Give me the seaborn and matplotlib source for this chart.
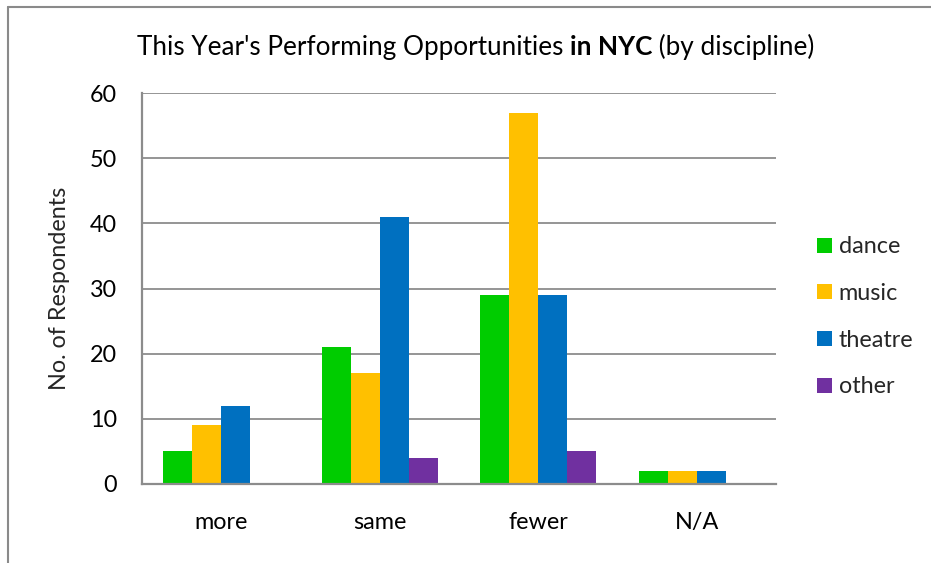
import matplotlib
matplotlib.use("Agg")
import matplotlib.pyplot as plt
import seaborn as sns
import pandas as pd
from matplotlib.lines import Line2D

categories = ["more", "same", "fewer", "N/A"]
disciplines = ["dance", "music", "theatre", "other"]
dance = [5, 21, 29, 2]
music = [9, 17, 57, 2]
theatre = [12, 41, 29, 2]
other = [0, 4, 5, 0]
yticks = [0, 10, 20, 30, 40, 50, 60]
colors = ["#00CC00", "#FFC000", "#0070C0", "#7030A0"]

rows = []
for d, vals in zip(disciplines, [dance, music, theatre, other]):
    for c, v in zip(categories, vals):
        rows.append({"category": c, "discipline": d, "value": v})
df = pd.DataFrame(rows)

sns.set_theme(style="white")
plt.rcParams["font.family"] = ["Lato", "DejaVu Sans"]

W, H = 931, 563
FS = 16.8
fig = plt.figure(figsize=(W / 100, H / 100), dpi=100)
ax = fig.add_axes([142 / W, 1 - 484 / H, (776 - 142) / W, (484 - 93) / H])

sns.barplot(data=df, x="category", y="value", hue="discipline",
            order=categories, hue_order=disciplines,
            palette=colors, width=0.73, saturation=1, ax=ax,
            edgecolor="none", linewidth=0)

ax.set_ylim(0, 60)
ax.set_yticks(yticks)
ax.set_xlim(-0.5, 3.5)
ax.grid(axis="y", color="#8c8c8c", linewidth=1.3)
ax.set_axisbelow(True)
for s in ["top", "right"]:
    ax.spines[s].set_visible(False)
for s in ["left", "bottom"]:
    ax.spines[s].set_color("#8c8c8c")
    ax.spines[s].set_linewidth(1.6)
ax.tick_params(axis="both", length=0, labelsize=FS, colors="black")
ax.tick_params(axis="y", pad=18)
ax.tick_params(axis="x", pad=20)
ax.set_xlabel("")
ax.set_ylabel("No. of Respondents", fontsize=FS, labelpad=14)

leg = ax.legend(loc="upper left", bbox_to_anchor=(808 / W, 1 - 227 / H),
                bbox_transform=fig.transFigure, frameon=False,
                fontsize=FS, handlelength=0.62, handleheight=0.62,
                handletextpad=0.3, labelspacing=1.1, borderaxespad=0)

# Title with bold part
fig.canvas.draw()
r = fig.canvas.get_renderer()
parts = [("This Year's Performing Opportunities ", "normal"),
         ("in NYC", "bold"),
         (" (by discipline)", "normal")]
x = 137
ybase = 1 - 55 / H
for txt, wt in parts:
    t = fig.text(x / W, ybase, txt, fontsize=18.8, fontweight=wt,
                 ha="left", va="baseline", color="black")
    bb = t.get_window_extent(renderer=r)
    x += bb.width

# Outer border (left and top)
fig.add_artist(Line2D([8 / W, 8 / W], [0, 1 - 7 / H], transform=fig.transFigure,
                      color="#8a8a8a", linewidth=1.5))
fig.add_artist(Line2D([8 / W, 1], [1 - 7 / H, 1 - 7 / H], transform=fig.transFigure,
                      color="#8a8a8a", linewidth=1.5))

fig.savefig("out.png", dpi=100)
